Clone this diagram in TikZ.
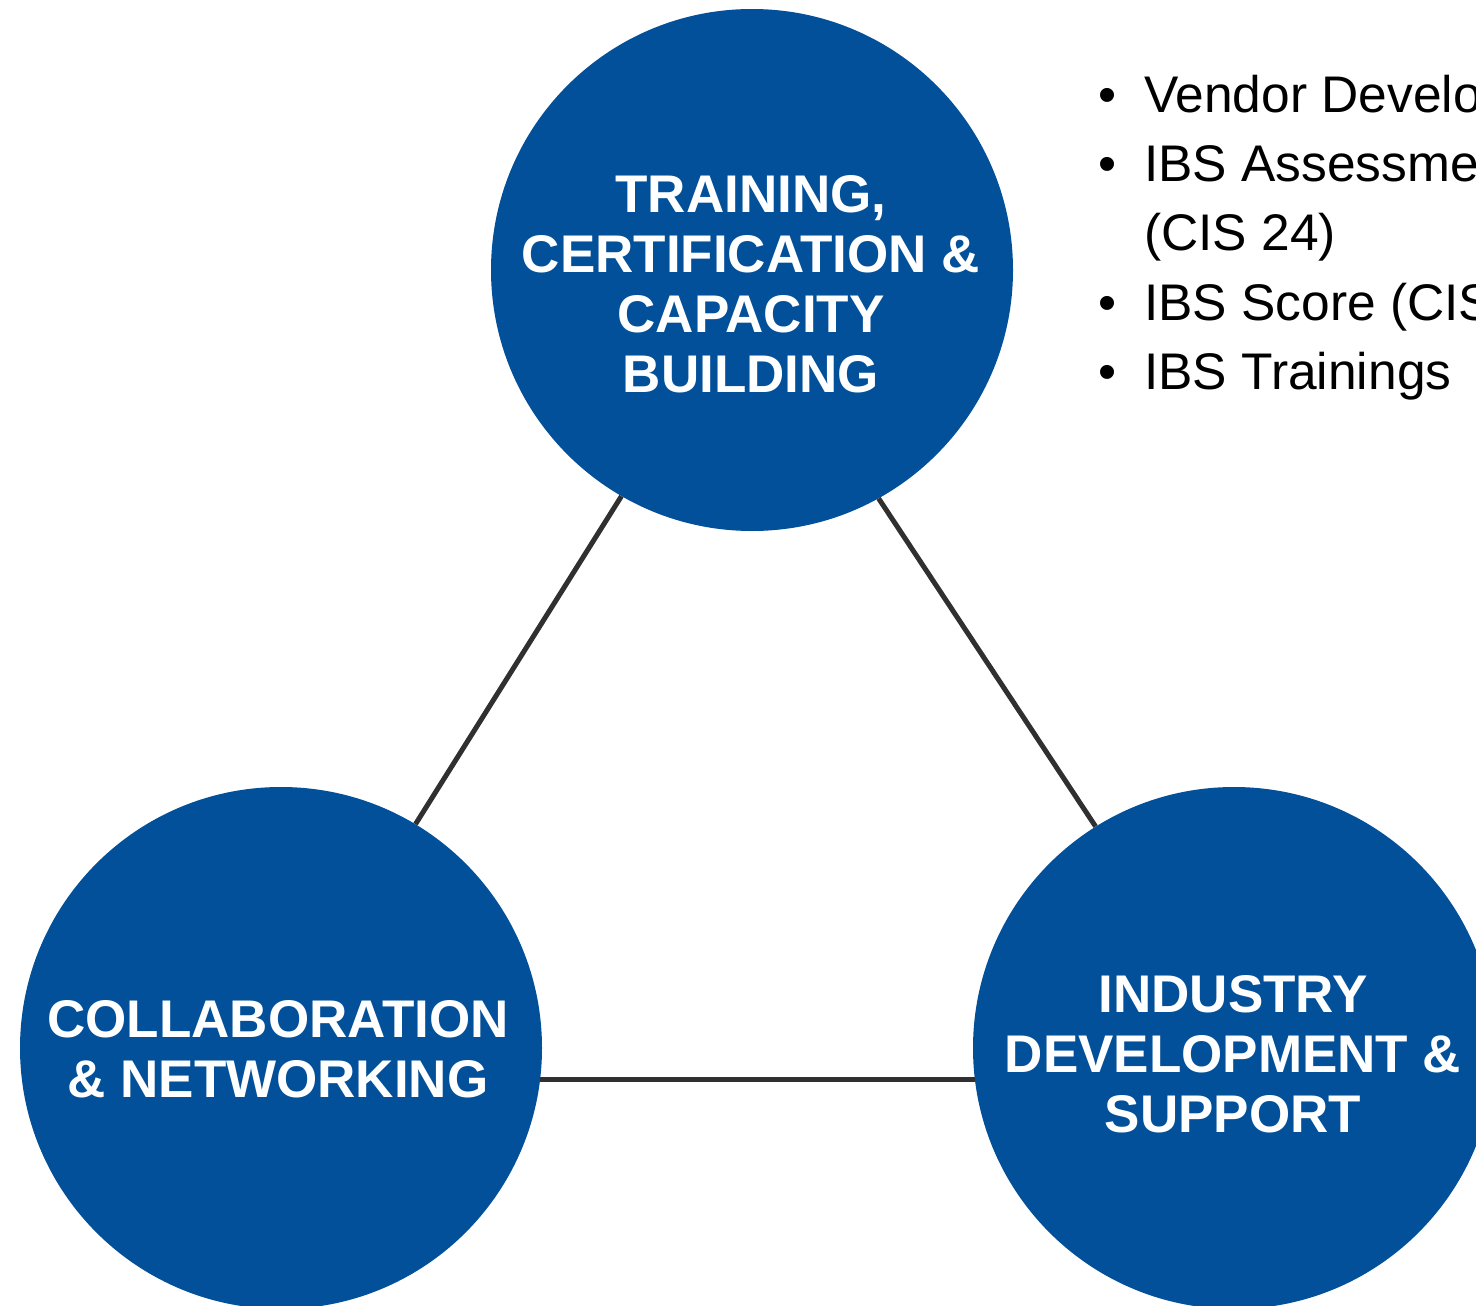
\documentclass[tikz,border=0pt]{standalone}
\usepackage{fontspec}
\setmainfont{Liberation Sans}
\definecolor{hubblue}{HTML}{03509A}
\definecolor{linkgray}{HTML}{303030}
\begin{document}
\begin{tikzpicture}[x=1pt,y=-1pt,
  hub/.style={circle,fill=hubblue,minimum size=522pt,inner sep=0pt},
  hubtext/.style={text=white,font=\fontsize{53}{60}\selectfont\bfseries,align=center,anchor=base,inner sep=0pt},
  link/.style={draw=linkgray,line width=5pt},
  bullets/.style={font=\fontsize{51.5}{69.5}\selectfont,anchor=base west,inner sep=0pt}]
\useasboundingbox (0,0) rectangle (1476,1306);
\clip (0,0) rectangle (1476,1306);
\node[hub] (top) at (752,270) {};
\node[hub] (bl) at (281,1048) {};
\node[hub] (br) at (1234,1048) {};
\draw[link] (top.240.8) -- (bl.59.2);
\draw[link] (top.299.4) -- (br.122.3);
\draw[link] (bl.-7.9) -- (br.187.9);
\node[hubtext] (toplabel) at (751,392) {TRAINING,\\CERTIFICATION \&\\CAPACITY\\BUILDING};
\node[hubtext] (bllabel) at (278,1097) {COLLABORATION\\\& NETWORKING};
\node[hubtext] (brlabel) at (1233,1132) {INDUSTRY\\DEVELOPMENT \&\\SUPPORT};
\node[bullets] (list) at (1098,112) {\begin{tabular}[t]{@{}l@{}l@{}}
\makebox[46pt][l]{\textbullet} & Vendor Development\\
\makebox[46pt][l]{\textbullet} & IBS Assessment\\
 & (CIS 24)\\
\makebox[46pt][l]{\textbullet} & IBS Score (CIS\\
\makebox[46pt][l]{\textbullet} & IBS Trainings
\end{tabular}};
\end{tikzpicture}
\end{document}
